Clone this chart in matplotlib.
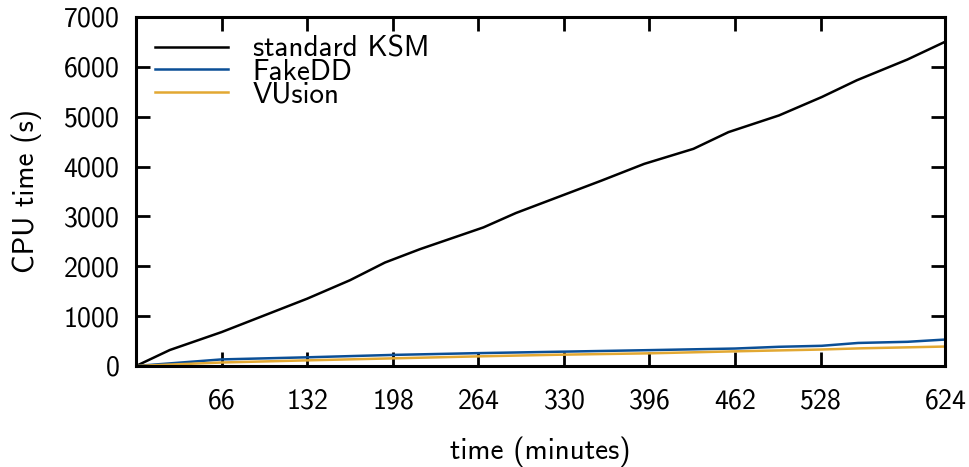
import matplotlib
matplotlib.use("Agg")
import matplotlib.pyplot as plt

plt.rcParams['font.family'] = ['cmss10', 'DejaVu Sans']
plt.rcParams['axes.formatter.use_mathtext'] = True

# data
ksm_t = [0, 26, 66, 132, 165, 192, 219, 268, 293, 359, 392, 430, 457, 496, 529, 556, 595, 624]
ksm_cpu = [0, 320, 680, 1350, 1720, 2075, 2343, 2780, 3068, 3718, 4054, 4356, 4691, 5026, 5395, 5731, 6147, 6502]

fake_t = [0, 66, 132, 198, 264, 324, 396, 462, 496, 529, 557, 595, 624]
fake_cpu = [0, 132, 174, 222, 258, 285, 318, 350, 385, 405, 462, 485, 530]

vus_t = [0, 66, 132, 198, 264, 324, 396, 462, 528, 560, 624]
vus_cpu = [0, 70, 113, 153, 193, 225, 254, 294, 330, 355, 390]

xticks = [66, 132, 198, 264, 330, 396, 462, 528, 624]
yticks = [0, 1000, 2000, 3000, 4000, 5000, 6000, 7000]

fig = plt.figure(figsize=(9.69, 4.67), dpi=100)
ax = fig.add_axes([0.1404, 0.2163, 0.8348, 0.7473])

ax.plot(ksm_t, ksm_cpu, color='black', lw=1.8, label='standard KSM')
ax.plot(fake_t, fake_cpu, color='#0b4f96', lw=1.8, label='FakeDD')
ax.plot(vus_t, vus_cpu, color='#e2a832', lw=1.8, label='VUsion')

ax.set_xlim(0, 624)
ax.set_ylim(0, 7000)
ax.set_xticks(xticks)
ax.set_yticks(yticks)
ax.tick_params(direction='in', length=10, width=2, top=True, right=True,
               labelsize=20)
ax.tick_params(axis='x', pad=16)
ax.tick_params(axis='y', pad=12)
for s in ax.spines.values():
    s.set_linewidth(2.2)

ax.set_xlabel('time (minutes)', fontsize=21, labelpad=17)
ax.set_ylabel('CPU time (s)', fontsize=21, labelpad=15)

ax.legend(loc='upper left', frameon=False, fontsize=21, handlelength=2.5,
          labelspacing=-0.15, borderaxespad=0.25, borderpad=0.4,
          handletextpad=0.85)

fig.savefig('out.png', dpi=100)
